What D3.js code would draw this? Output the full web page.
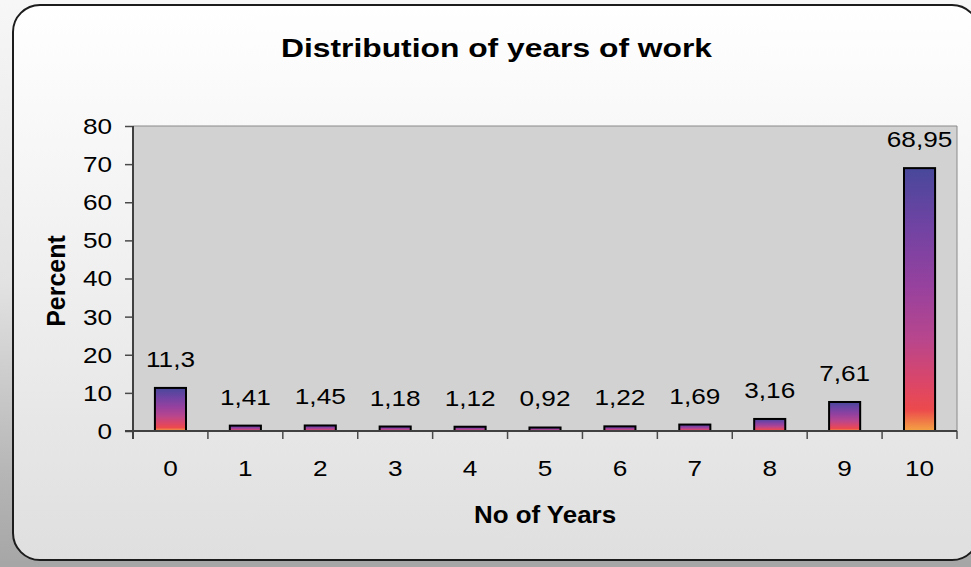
<!DOCTYPE html>
<html>
<head>
<meta charset="utf-8">
<script src="https://cdn.jsdelivr.net/npm/d3@7"></script>
<style>
  html, body { margin: 0; padding: 0; background: #ffffff; }
  svg { display: block; font-family: Arial, "Liberation Sans", Helvetica, sans-serif; }
</style>
</head>
<body>
<svg id="chart" width="971" height="567"></svg>
<script>
// Years of work: share of respondents (%) by number of years
const categories = ["0", "1", "2", "3", "4", "5", "6", "7", "8", "9", "10"];
const percents = [11.3, 1.41, 1.45, 1.18, 1.12, 0.92, 1.22, 1.69, 3.16, 7.61, 68.95];
const yTicks = [0, 10, 20, 30, 40, 50, 60, 70, 80];

const titleText = "Distribution of years of work";
const xTitle = "No of Years";
const yTitle = "Percent";

const W = 971, H = 567;
const plot = { left: 133, right: 957, top: 126, bottom: 431 };
const SX = 1.19;     // horizontal stretch of the numeric lettering
const NUM_SIZE = 22; // numeric label size

const svg = d3.select("#chart");
const defs = svg.append("defs");

// outer backdrop and frame fill
const bgGrad = defs.append("linearGradient").attr("id", "outerBg")
  .attr("x1", 0).attr("y1", 0).attr("x2", 0).attr("y2", 1);
bgGrad.append("stop").attr("offset", 0).attr("stop-color", "#f7f7f7");
bgGrad.append("stop").attr("offset", 0.5).attr("stop-color", "#e2e2e2");
bgGrad.append("stop").attr("offset", 0.85).attr("stop-color", "#b4b4b4");
bgGrad.append("stop").attr("offset", 1).attr("stop-color", "#a6a6a6");

const frameGrad = defs.append("linearGradient").attr("id", "frameBg")
  .attr("x1", 0).attr("y1", 0).attr("x2", 0).attr("y2", 1);
frameGrad.append("stop").attr("offset", 0).attr("stop-color", "#ffffff");
frameGrad.append("stop").attr("offset", 1).attr("stop-color", "#dfdfdf");

// bar fill: blue-violet at the top through magenta and red to orange at the base
const barGrad = defs.append("linearGradient").attr("id", "barFill")
  .attr("x1", 0).attr("y1", 0).attr("x2", 0).attr("y2", 1);
[
  [0, "#48489a"], [0.22, "#7043a3"], [0.45, "#97419e"],
  [0.65, "#b8468d"], [0.82, "#dc4667"], [0.92, "#ec4a4c"], [1, "#f4a443"]
].forEach(([o, c]) => barGrad.append("stop").attr("offset", o).attr("stop-color", c));

svg.append("rect").attr("width", W).attr("height", H).attr("fill", "url(#outerBg)");
svg.append("rect").attr("x", 0).attr("y", 561).attr("width", W).attr("height", H - 561).attr("fill", "#a6a6a6");

svg.append("rect")
  .attr("x", 13).attr("y", 5).attr("width", 966).attr("height", 555)
  .attr("rx", 27).attr("ry", 27)
  .attr("fill", "url(#frameBg)")
  .attr("stroke", "#1c1c1c").attr("stroke-width", 2);

// scales
const x = d3.scaleBand().domain(categories)
  .range([plot.left, plot.right]).paddingInner(0.585).paddingOuter(0.2925);
const boundary = d3.scaleLinear().domain([0, categories.length]).range([plot.left, plot.right]);
const y = d3.scaleLinear().domain([0, 80]).range([plot.bottom, plot.top]);

const fmt = d3.formatLocale({ decimal: ",", thousands: ".", grouping: [3], currency: ["", ""] }).format("");

// plot area
svg.append("rect")
  .attr("x", plot.left).attr("y", plot.top)
  .attr("width", plot.right - plot.left).attr("height", plot.bottom - plot.top)
  .attr("fill", "#d2d2d2");
svg.append("path")
  .attr("d", `M${plot.left},${plot.top}H${plot.right}V${plot.bottom}`)
  .attr("fill", "none").attr("stroke", "#8a8a8a").attr("stroke-width", 1);

// y axis
const yAxis = svg.append("g").attr("transform", `translate(${plot.left},0)`)
  .call(d3.axisLeft(y).tickValues(yTicks).tickSize(8).tickSizeOuter(0).tickFormat(""));
yAxis.select(".domain").remove();
yAxis.selectAll(".tick line").attr("stroke", "#4a4a4a").attr("stroke-width", 1.5);

svg.append("g").selectAll("text").data(yTicks).join("text")
  .attr("transform", d => `translate(112,${y(d)}) scale(${SX},1)`)
  .attr("dy", "0.36em")
  .attr("text-anchor", "end")
  .attr("font-size", NUM_SIZE)
  .attr("fill", "#000")
  .text(d => d);

// x axis ticks at category boundaries
const bounds = d3.range(categories.length + 1);
svg.append("g").selectAll("line").data(bounds).join("line")
  .attr("x1", d => boundary(d)).attr("x2", d => boundary(d))
  .attr("y1", plot.bottom).attr("y2", plot.bottom + 8)
  .attr("stroke", "#4a4a4a").attr("stroke-width", 1.5);

// bars
svg.append("g").selectAll("rect").data(percents).join("rect")
  .attr("x", (d, i) => x(categories[i]))
  .attr("width", x.bandwidth())
  .attr("y", d => y(d))
  .attr("height", d => y(0) - y(d))
  .attr("fill", "url(#barFill)")
  .attr("stroke", "#000").attr("stroke-width", 2);

// axis lines
svg.append("line")
  .attr("x1", plot.left).attr("x2", plot.left)
  .attr("y1", plot.top).attr("y2", plot.bottom + 8)
  .attr("stroke", "#404040").attr("stroke-width", 2);
svg.append("line")
  .attr("x1", plot.left - 8).attr("x2", plot.right)
  .attr("y1", plot.bottom).attr("y2", plot.bottom)
  .attr("stroke", "#404040").attr("stroke-width", 2);

// value labels
svg.append("g").selectAll("text").data(percents).join("text")
  .attr("transform", (d, i) => `translate(${x(categories[i]) + x.bandwidth() / 2},${y(d) - 21}) scale(${SX},1)`)
  .attr("text-anchor", "middle")
  .attr("font-size", NUM_SIZE)
  .attr("fill", "#000")
  .text(d => fmt(d));

// category labels
svg.append("g").selectAll("text").data(categories).join("text")
  .attr("transform", d => `translate(${x(d) + x.bandwidth() / 2},476) scale(${SX},1)`)
  .attr("text-anchor", "middle")
  .attr("font-size", NUM_SIZE)
  .attr("fill", "#000")
  .text(d => d);

// titles
svg.append("text")
  .attr("transform", `translate(496.5,57) scale(1.2,1)`)
  .attr("text-anchor", "middle")
  .attr("font-size", 26.5).attr("font-weight", "bold")
  .attr("fill", "#000")
  .text(titleText);

svg.append("text")
  .attr("transform", `translate(${(plot.left + plot.right) / 2},522.5) scale(1.08,1)`)
  .attr("text-anchor", "middle")
  .attr("font-size", 24).attr("font-weight", "bold")
  .attr("fill", "#000")
  .text(xTitle);

svg.append("text")
  .attr("transform", `translate(65,281) rotate(-90)`)
  .attr("text-anchor", "middle")
  .attr("font-size", 25).attr("font-weight", "bold")
  .attr("fill", "#000")
  .text(yTitle);
</script>
</body>
</html>
